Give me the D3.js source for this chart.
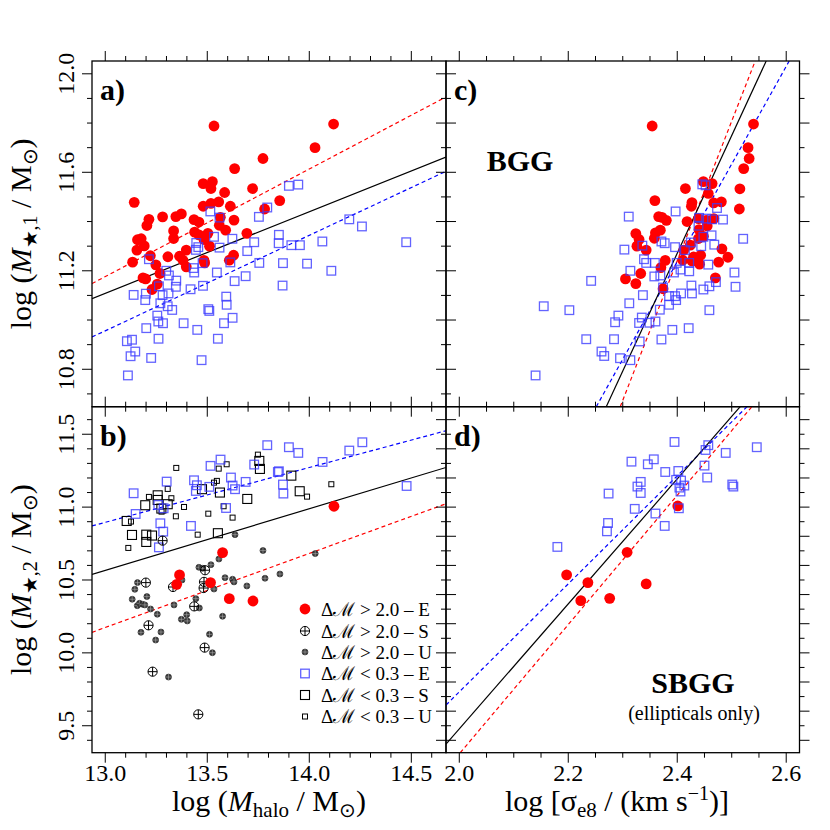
<!DOCTYPE html>
<html><head><meta charset="utf-8">
<script src="https://cdn.jsdelivr.net/npm/d3@7"></script>
<style>
body{margin:0;background:#fff;}
svg{display:block;font-family:"Liberation Serif","Times New Roman",serif;}
</style></head>
<body><svg id="c" width="830" height="830"></svg>
<script>
// ---------- DATA ----------
// Panel a: BGG stellar mass vs halo mass
const aRedPts = [[13.533,11.788],[14.119,11.796],[14.028,11.700],[13.773,11.656],[13.634,11.615],[13.480,11.554],[13.525,11.562],[13.518,11.534],[13.722,11.534],[13.585,11.518],[13.142,11.478],[13.855,11.485],[13.480,11.462],[13.518,11.474],[13.556,11.480],[13.613,11.462],[13.281,11.419],[13.214,11.409],[13.346,11.420],[13.373,11.431],[13.435,11.408],[13.459,11.398],[13.564,11.417],[13.631,11.406],[13.781,11.451],[13.204,11.384],[13.335,11.362],[13.438,11.357],[13.459,11.346],[13.503,11.352],[13.559,11.385],[13.590,11.365],[13.694,11.352],[13.158,11.326],[13.176,11.330],[13.335,11.331],[13.191,11.301],[13.155,11.284],[13.397,11.284],[13.484,11.327],[13.511,11.300],[13.221,11.261],[13.307,11.257],[13.364,11.259],[13.381,11.243],[13.248,11.224],[13.487,11.232],[13.629,11.263],[13.608,11.243],[13.134,11.235],[13.397,11.216],[13.484,11.242],[13.185,11.171],[13.198,11.167],[13.268,11.189],[13.255,11.146],[13.229,11.124]];
const aBluePts = [[13.900,11.545],[13.946,11.550],[13.515,11.441],[13.560,11.416],[13.794,11.457],[13.753,11.419],[14.196,11.409],[14.258,11.380],[13.533,11.338],[13.623,11.330],[13.446,11.313],[13.456,11.296],[13.444,11.285],[13.560,11.294],[13.730,11.316],[13.851,11.346],[13.850,11.312],[13.912,11.304],[13.954,11.304],[14.064,11.319],[14.475,11.316],[13.696,11.280],[13.214,11.247],[13.477,11.231],[13.613,11.234],[13.755,11.232],[13.871,11.231],[13.989,11.229],[13.433,11.211],[13.436,11.193],[13.547,11.193],[14.108,11.200],[13.299,11.200],[13.312,11.181],[13.348,11.160],[13.346,11.135],[13.688,11.178],[13.634,11.158],[13.418,11.125],[13.479,11.139],[13.869,11.140],[13.139,11.102],[13.199,11.107],[13.263,11.137],[13.281,11.101],[13.310,11.108],[13.196,11.081],[13.593,11.095],[13.270,11.068],[13.595,11.062],[13.306,11.056],[13.328,11.041],[13.505,11.044],[13.510,11.037],[13.624,11.009],[13.255,11.018],[13.260,10.994],[13.283,10.987],[13.384,10.987],[13.582,10.987],[13.201,10.967],[13.451,10.960],[13.261,10.924],[13.552,10.924],[13.106,10.914],[13.131,10.920],[13.147,10.872],[13.124,10.853],[13.225,10.846],[13.472,10.837],[13.111,10.775]];
// Panel c: BGG stellar mass vs velocity dispersion
const cRedPts = [[2.354,11.788],[2.540,11.796],[2.530,11.700],[2.532,11.656],[2.522,11.615],[2.448,11.562],[2.464,11.554],[2.415,11.534],[2.515,11.533],[2.457,11.514],[2.359,11.485],[2.427,11.477],[2.426,11.462],[2.467,11.476],[2.481,11.480],[2.514,11.451],[2.366,11.420],[2.372,11.417],[2.380,11.405],[2.418,11.400],[2.439,11.412],[2.453,11.405],[2.467,11.412],[2.455,11.382],[2.440,11.367],[2.369,11.365],[2.360,11.354],[2.324,11.351],[2.330,11.327],[2.358,11.332],[2.326,11.300],[2.343,11.284],[2.439,11.331],[2.448,11.340],[2.424,11.304],[2.412,11.284],[2.482,11.289],[2.493,11.255],[2.476,11.235],[2.443,11.263],[2.436,11.240],[2.430,11.256],[2.441,11.227],[2.410,11.243],[2.378,11.242],[2.370,11.213],[2.333,11.189],[2.305,11.167],[2.324,11.148],[2.470,11.171],[2.374,11.127],[2.427,11.240]];
const cBluePts = [[2.446,11.551],[2.452,11.547],[2.397,11.441],[2.311,11.420],[2.473,11.455],[2.484,11.408],[2.440,11.415],[2.453,11.412],[2.464,11.409],[2.521,11.330],[2.371,11.319],[2.377,11.312],[2.303,11.286],[2.336,11.302],[2.396,11.296],[2.414,11.284],[2.425,11.315],[2.444,11.300],[2.463,11.344],[2.468,11.306],[2.448,11.338],[2.439,11.383],[2.339,11.247],[2.343,11.232],[2.359,11.232],[2.399,11.232],[2.422,11.232],[2.457,11.225],[2.394,11.193],[2.406,11.205],[2.422,11.198],[2.314,11.200],[2.358,11.177],[2.369,11.181],[2.505,11.193],[2.242,11.159],[2.374,11.132],[2.426,11.140],[2.448,11.124],[2.459,11.137],[2.507,11.135],[2.471,11.154],[2.337,11.101],[2.385,11.097],[2.396,11.097],[2.398,11.081],[2.407,11.108],[2.427,11.108],[2.312,11.068],[2.385,11.062],[2.155,11.056],[2.202,11.040],[2.368,11.042],[2.459,11.040],[2.292,11.018],[2.286,10.991],[2.335,11.010],[2.330,10.988],[2.349,10.989],[2.360,10.994],[2.391,10.960],[2.421,10.967],[2.233,10.922],[2.284,10.922],[2.331,10.913],[2.371,10.921],[2.261,10.872],[2.266,10.854],[2.295,10.845],[2.314,10.837],[2.140,10.775]];
// Panel b: SBGG stellar mass vs halo mass
const bRedE = [[14.121,11.006],[13.575,10.688],[13.364,10.535],[13.350,10.470],[13.516,10.482],[13.608,10.372],[13.724,10.356]];
const bCrossS = [[13.281,10.770],[13.199,10.482],[13.332,10.452],[13.489,10.567],[13.484,10.487],[13.482,10.445],[13.436,10.319],[13.212,10.189],[13.487,10.036],[13.232,9.871],[13.456,9.578]];
const bDotU = [[13.636,10.811],[13.773,10.702],[14.029,10.681],[13.557,10.644],[13.518,10.605],[13.459,10.587],[13.477,10.580],[13.376,10.500],[13.158,10.482],[13.145,10.436],[13.856,10.541],[13.783,10.512],[13.587,10.516],[13.624,10.505],[13.631,10.487],[13.694,10.459],[13.533,10.438],[13.132,10.368],[13.204,10.386],[13.157,10.324],[13.168,10.340],[13.183,10.333],[13.194,10.329],[13.222,10.301],[13.337,10.329],[13.444,10.372],[13.461,10.308],[13.255,10.265],[13.399,10.262],[13.373,10.230],[13.402,10.219],[13.575,10.251],[13.175,10.141],[13.273,10.143],[13.247,10.088],[13.511,10.127],[13.525,10.001],[13.310,9.834]];
const bBlueE = [[13.794,11.425],[13.900,11.411],[13.946,11.372],[14.260,11.445],[14.196,11.388],[14.065,11.310],[13.565,11.326],[13.516,11.283],[13.730,11.292],[13.851,11.246],[13.846,11.241],[13.871,11.155],[13.873,11.093],[13.688,11.173],[13.616,11.203],[13.624,11.148],[13.636,11.123],[13.435,11.184],[13.449,11.150],[13.444,11.111],[13.510,11.139],[13.301,11.175],[13.139,11.095],[13.260,11.015],[13.286,10.992],[13.149,10.953],[13.270,10.889],[13.420,10.871],[13.284,10.832],[13.263,10.724],[13.592,10.994],[14.477,11.145]];
const bSquareS = [[13.755,11.317],[13.758,11.262],[13.912,11.216],[13.953,11.109],[13.696,11.056],[13.562,11.100],[13.474,11.123],[13.257,11.081],[13.257,11.049],[13.306,11.020],[13.196,11.013],[13.275,10.990],[13.105,10.905],[13.131,10.809],[13.201,10.811],[13.229,10.805],[13.201,10.761],[13.552,10.821]];
const bSquareU = [[13.748,11.360],[13.595,11.294],[13.556,11.264],[13.348,11.269],[13.547,11.180],[13.533,11.168],[14.108,11.157],[13.306,11.125],[13.214,11.070],[13.324,11.061],[13.989,11.072],[13.386,11.001],[13.580,11.006],[13.126,10.901],[13.276,10.969],[13.346,10.937],[13.505,10.955],[13.624,10.928],[13.453,10.811],[13.113,10.720]];
// Panel d: SBGG (ellipticals only) stellar mass vs velocity dispersion
const dBlueE = [[2.395,11.447],[2.457,11.425],[2.452,11.392],[2.489,11.372],[2.546,11.411],[2.316,11.312],[2.357,11.328],[2.346,11.294],[2.378,11.241],[2.402,11.248],[2.450,11.285],[2.455,11.203],[2.333,11.173],[2.327,11.141],[2.333,11.097],[2.274,11.093],[2.398,11.187],[2.407,11.182],[2.413,11.148],[2.404,11.134],[2.406,11.107],[2.501,11.155],[2.503,11.141],[2.322,10.988],[2.360,10.956],[2.403,10.992],[2.273,10.891],[2.271,10.834],[2.377,10.871],[2.180,10.727]];
const dRedE = [[2.401,11.008],[2.308,10.690],[2.197,10.535],[2.236,10.482],[2.343,10.473],[2.223,10.358],[2.276,10.374]];
// Fit lines: [x1,y1,x2,y2]
const fitsA = {red:[12.935,11.148,14.670,11.906], black:[12.935,11.087,14.670,11.662], blue:[12.935,10.931,14.670,11.604]};
const fitsB = {red:[12.935,10.141,14.670,11.023], black:[12.935,10.539,14.670,11.272], blue:[12.935,10.871,14.670,11.524]};
const fitsC = {red:[2.2954,10.648,2.5431,12.052], black:[2.2697,10.648,2.5633,12.052], blue:[2.2514,10.648,2.6055,12.052]};
const fitsD = {red:[2.0018,9.315,2.537,11.689], black:[1.9756,9.374,2.5156,11.689], blue:[1.9756,9.642,2.528,11.689]};
// Tick labels
const ticksHalo = [13.0,13.5,14.0,14.5];
const ticksSigma = [2.0,2.2,2.4,2.6];
const ticksM1 = [10.8,11.2,11.6,12.0];
const ticksM2 = [9.5,10.0,10.5,11.0,11.5];
const legendLabels = ["Δℳ > 2.0 – E","Δℳ > 2.0 – S","Δℳ > 2.0 – U","Δℳ < 0.3 – E","Δℳ < 0.3 – S","Δℳ < 0.3 – U"];

// ---------- LAYOUT ----------
const L=92, M=446, R=799.5, T=61, MID=406.7, B=752.7;
const svg = d3.select("#c");
const xHalo = d3.scaleLinear().domain([12.935,14.670]).range([L,M]);
const xSig = d3.scaleLinear().domain([1.9756,2.6244]).range([M,R]);
const yTop = d3.scaleLinear().domain([10.648,12.052]).range([MID,T]);
const yBot = d3.scaleLinear().domain([9.315,11.689]).range([B,MID]);

const RED="#ff0000", BLUE="#0000ff", SQBLUE="#3c3cff";

function panel(id, xs, ys) {
  const g = svg.append("g");
  const [x0,x1] = xs.range(), [y1,y0] = ys.range();
  svg.append("clipPath").attr("id","clip"+id).append("rect")
    .attr("x",x0).attr("y",y0).attr("width",x1-x0).attr("height",y1-y0);
  const inner = g.append("g").attr("clip-path",`url(#clip${id})`);
  return {g, inner, xs, ys, x0, x1, y0, y1};
}
function drawFits(p, fits) {
  const styles = {red:{c:RED,d:"4,3"}, blue:{c:BLUE,d:"4,3"}, black:{c:"#000",d:null}};
  for (const k of ["red","blue","black"]) {
    const f = fits[k];
    p.inner.append("line").attr("x1",p.xs(f[0])).attr("y1",p.ys(f[1]))
      .attr("x2",p.xs(f[2])).attr("y2",p.ys(f[3]))
      .attr("stroke",styles[k].c).attr("stroke-width",1.2)
      .attr("stroke-dasharray",styles[k].d);
  }
}
function sym(g, type, x, y) {
  if (type==="redE") {
    g.append("circle").attr("cx",x).attr("cy",y).attr("r",5.4).attr("fill",RED);
  } else if (type==="crossS") {
    const r=4.6;
    g.append("circle").attr("cx",x).attr("cy",y).attr("r",r).attr("fill","none").attr("stroke","#000").attr("stroke-width",1);
    g.append("path").attr("d",`M${x-r},${y}H${x+r}M${x},${y-r}V${y+r}`).attr("stroke","#000").attr("stroke-width",1);
  } else if (type==="dotU") {
    const r=3;
    g.append("circle").attr("cx",x).attr("cy",y).attr("r",r).attr("fill","#3a3a3a").attr("stroke","#222").attr("stroke-width",0.6);
    g.append("path").attr("d",`M${x-r},${y}H${x+r}M${x},${y-r}V${y+r}`).attr("stroke","#aaa").attr("stroke-width",0.6);
  } else if (type==="blueE") {
    const s=8.6;
    g.append("rect").attr("x",x-s/2).attr("y",y-s/2).attr("width",s).attr("height",s)
      .attr("fill","none").attr("stroke",SQBLUE).attr("stroke-opacity",0.8).attr("stroke-width",1.3);
  } else if (type==="sqS") {
    const s=9;
    g.append("rect").attr("x",x-s/2).attr("y",y-s/2).attr("width",s).attr("height",s)
      .attr("fill","none").attr("stroke","#000").attr("stroke-width",1.1);
  } else if (type==="sqU") {
    const s=5;
    g.append("rect").attr("x",x-s/2).attr("y",y-s/2).attr("width",s).attr("height",s)
      .attr("fill","none").attr("stroke","#000").attr("stroke-width",1);
  }
}
function pts(p, data, type) { data.forEach(d => sym(p.inner, type, p.xs(d[0]), p.ys(d[1]))); }

function isMajor(v, list){ return list.some(m => Math.abs(m-v)<1e-6); }
function ticks(p, side, start, stop, step, majors, len) {
  const n = Math.round((stop-start)/step);
  const g = p.g.append("g").attr("stroke","#000").attr("stroke-width",1);
  for (let i=0;i<=n;i++){
    const v = +(start+i*step).toFixed(4);
    const l = isMajor(v,majors)?10:5;
    if (side==="left"||side==="right") {
      const y = p.ys(v); if (y<p.y0-0.5||y>p.y1+0.5) continue;
      const x = side==="left"?p.x0:p.x1, dx = side==="left"?-l:l;
      g.append("line").attr("x1",x).attr("x2",x+dx).attr("y1",y).attr("y2",y);
    } else {
      const x = p.xs(v); if (x<p.x0-0.5||x>p.x1+0.5) continue;
      const y = side==="top"?p.y0:p.y1, dy = side==="top"?-l:l;
      g.append("line").attr("x1",x).attr("x2",x).attr("y1",y).attr("y2",y+dy);
    }
  }
}
function frame(p){
  p.g.append("rect").attr("x",p.x0).attr("y",p.y0).attr("width",p.x1-p.x0).attr("height",p.y1-p.y0)
    .attr("fill","none").attr("stroke","#000").attr("stroke-width",1.3);
}
function ylabels(p, vals){
  vals.forEach(v=>{
    const y=p.ys(v);
    svg.append("text").attr("transform",`translate(74,${y}) rotate(-90)`).attr("text-anchor","middle")
      .attr("font-size",24).text(d3.format(".1f")(v));
  });
}
function xlabels(p, vals){
  vals.forEach(v=>{
    svg.append("text").attr("x",p.xs(v)).attr("y",781).attr("text-anchor","middle")
      .attr("font-size",24).text(d3.format(".1f")(v));
  });
}
function tag(p, t){
  svg.append("text").attr("x",p.x0+8).attr("y",p.y0+39).attr("font-size",30).attr("font-weight","bold").text(t);
}

// Panel a
const pa = panel("a", xHalo, yTop);
drawFits(pa, fitsA);
pts(pa, aRedPts, "redE");
pts(pa, aBluePts, "blueE");
// Panel c
const pc = panel("c", xSig, yTop);
drawFits(pc, fitsC);
pts(pc, cRedPts, "redE");
pts(pc, cBluePts, "blueE");
// Panel b
const pb = panel("b", xHalo, yBot);
drawFits(pb, fitsB);
pts(pb, bSquareU, "sqU");
pts(pb, bSquareS, "sqS");
pts(pb, bBlueE, "blueE");
pts(pb, bDotU, "dotU");
pts(pb, bCrossS, "crossS");
pts(pb, bRedE, "redE");
// Panel d
const pd = panel("d", xSig, yBot);
drawFits(pd, fitsD);
pts(pd, dRedE, "redE");
pts(pd, dBlueE, "blueE");

// ticks
const hm=[13.0,13.5,14.0,14.5], sm=[2.0,2.2,2.4,2.6];
const m1 = [10.8,11.2,11.6,12.0], m1r=[10.8,11.0,11.2,11.4,11.6,11.8,12.0];
const m2 = [9.5,10.0,10.5,11.0,11.5], m2r=[9.4,9.6,9.8,10.0,10.2,10.4,10.6,10.8,11.0,11.2,11.4,11.6];
[pa,pb].forEach(p=>{ ticks(p,"top",12.9,14.7,0.1,hm); ticks(p,"bottom",12.9,14.7,0.1,hm); });
[pc,pd].forEach(p=>{ ticks(p,"top",1.95,2.65,0.05,sm); ticks(p,"bottom",1.95,2.65,0.05,sm); });
ticks(pa,"left",10.6,12.1,0.1,m1); ticks(pa,"right",10.6,12.1,0.1,m1r);
ticks(pc,"left",10.6,12.1,0.1,m1r); ticks(pc,"right",10.6,12.1,0.1,m1r);
ticks(pb,"left",9.3,11.7,0.1,m2); ticks(pb,"right",9.3,11.7,0.1,m2r);
ticks(pd,"left",9.3,11.7,0.1,m2r); ticks(pd,"right",9.3,11.7,0.1,m2r);
[pa,pb,pc,pd].forEach(frame);

ylabels(pa, ticksM1); ylabels(pb, ticksM2);
xlabels(pb, ticksHalo); xlabels(pd, ticksSigma);
tag(pa,"a)"); tag(pb,"b)"); tag(pc,"c)"); tag(pd,"d)");

// Big labels
svg.append("text").attr("x",520).attr("y",171).attr("text-anchor","middle").attr("font-size",30).attr("font-weight","bold").text("BGG");
svg.append("text").attr("x",693).attr("y",693).attr("text-anchor","middle").attr("font-size",30).attr("font-weight","bold").text("SBGG");
svg.append("text").attr("x",694).attr("y",720).attr("text-anchor","middle").attr("font-size",20).text("(ellipticals only)");

// Axis titles
function ytitle(cy, sub){
  const t = svg.append("text").attr("transform",`translate(31,${cy}) rotate(-90)`).attr("text-anchor","middle").attr("font-size",30);
  t.append("tspan").text("log (");
  t.append("tspan").attr("font-style","italic").text("M");
  t.append("tspan").attr("font-size",20).attr("dy",6).text(sub);
  t.append("tspan").attr("dy",-6).text(" / M");
  t.append("tspan").attr("font-size",20).attr("dy",6).text("⊙");
  t.append("tspan").attr("dy",-6).text(")");
}
ytitle((T+MID)/2, "★,1");
ytitle((MID+B)/2, "★,2");
{
  const t = svg.append("text").attr("x",(L+M)/2).attr("y",811).attr("text-anchor","middle").attr("font-size",30);
  t.append("tspan").text("log (");
  t.append("tspan").attr("font-style","italic").text("M");
  t.append("tspan").attr("font-size",21).attr("dy",6).text("halo");
  t.append("tspan").attr("dy",-6).text(" / M");
  t.append("tspan").attr("font-size",20).attr("dy",6).text("⊙");
  t.append("tspan").attr("dy",-6).text(")");
}
{
  const t = svg.append("text").attr("x",617).attr("y",811).attr("text-anchor","middle").attr("font-size",30);
  t.append("tspan").text("log [σ");
  t.append("tspan").attr("font-size",21).attr("dy",6).text("e8");
  t.append("tspan").attr("dy",-6).text(" / (km s");
  t.append("tspan").attr("font-size",20).attr("dy",-11).text("−1");
  t.append("tspan").attr("dy",11).text(")]");
}

// Legend
const legTypes = ["redE","crossS","dotU","blueE","sqS","sqU"];
const legY = [609,631,652,673.5,695,716.5];
legTypes.forEach((tp,i)=>{
  sym(svg, tp, 305, legY[i]);
  svg.append("text").attr("x",321).attr("y",legY[i]+6.5).attr("font-size",19).text(legendLabels[i]);
});
</script></body></html>
